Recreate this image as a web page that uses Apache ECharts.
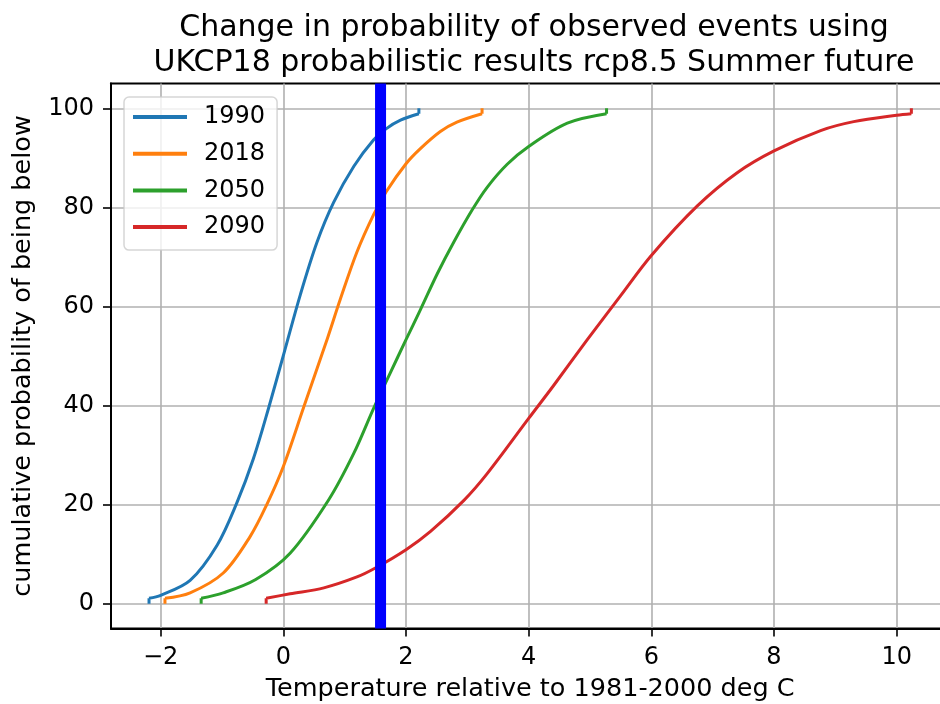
<!DOCTYPE html>
<html>
<head>
<meta charset="utf-8">
<script src="https://cdn.jsdelivr.net/npm/echarts@6/dist/echarts.min.js"></script>
<style>
html,body{margin:0;padding:0;overflow:hidden;background:#fff;}
#chart{width:960px;height:704px;}
</style>
</head>
<body>
<div id="chart"></div>
<script>
// ---- data ----
const seriesNames = ['1990', '2018', '2050', '2090'];
const colors = ['#1f77b4', '#ff7f0e', '#2ca02c', '#d62728'];

// first point / last point are the vertical end ticks (0 -> first value, last value -> 100)
const x1990 = [-2.19, -2.19, -2.0, -1.52, -1.08, -0.76, -0.49, -0.24, 0.02, 0.28, 0.55, 0.82, 1.15, 1.47, 1.68, 1.91, 2.21, 2.21];
const y1990 = [0, 1.1, 1.7, 4.7, 11.8, 20.3, 29.2, 39.5, 51.0, 62.5, 73.0, 81.0, 88.3, 93.6, 95.9, 97.6, 98.9, 100];

const x2018 = [-1.93, -1.93, -1.52, -0.98, -0.54, -0.27, 0.0, 0.33, 0.55, 0.72, 0.93, 1.20, 1.47, 1.68, 2.0, 2.23, 2.56, 2.83, 3.24, 3.24];
const y2018 = [0, 1.1, 2.2, 6.2, 13.6, 20.0, 27.7, 39.6, 47.5, 53.6, 61.5, 71.0, 78.5, 83.2, 88.8, 91.8, 95.3, 97.2, 98.9, 100];

const x2050 = [-1.34, -1.34, -0.98, -0.45, 0.11, 0.74, 1.15, 1.47, 1.74, 2.0, 2.23, 2.51, 2.78, 3.08, 3.32, 3.65, 4.0, 4.63, 5.27, 5.27];
const y2050 = [0, 1.1, 2.2, 4.9, 10.2, 21.0, 30.4, 39.4, 46.5, 53.3, 59.2, 66.6, 73.0, 79.5, 84.0, 88.7, 92.3, 97.0, 98.9, 100];

const x2090 = [-0.28, -0.28, 0.11, 0.66, 1.20, 1.50, 2.0, 2.40, 2.94, 3.32, 4.0, 4.41, 4.95, 5.50, 6.0, 6.75, 7.40, 8.0, 8.76, 9.30, 10.0, 10.24, 10.24];
const y2090 = [0, 1.1, 2.0, 3.2, 5.4, 7.2, 10.9, 14.6, 20.8, 26.2, 37.4, 44.1, 53.2, 62.2, 70.3, 80.3, 87.0, 91.4, 95.5, 97.3, 98.6, 98.9, 100];

const observedX = [1.585, 1.585];
const observedY = [-5, 105];

const xTicks = [-2, 0, 2, 4, 6, 8, 10];
const yTicks = [0, 20, 40, 60, 80, 100];
const xRange = [-2.81, 10.86];
const yRange = [-5, 105];

const titleText = 'Change in probability of observed events using\nUKCP18 probabilistic results rcp8.5 Summer future';
const xName = 'Temperature relative to 1981-2000 deg C';
const yName = 'cumulative probability of being below';

// ---- build ----
const xs = [x1990, x2018, x2050, x2090];
const ys = [y1990, y2018, y2050, y2090];
const FONT = 'DejaVu Sans';

// curve is smoothed; the two end ticks are straight segments separated by breaks
function buildData(xa, ya) {
  const n = xa.length;
  const out = [[xa[0], ya[0]], [xa[1], ya[1]], '-'];
  for (let i = 1; i < n - 1; i++) out.push([xa[i], ya[i]]);
  out.push('-', [xa[n - 2], ya[n - 2]], [xa[n - 1], ya[n - 1]]);
  return out;
}

const series = seriesNames.map((n, i) => ({
  name: n,
  type: 'line',
  data: buildData(xs[i], ys[i]),
  smooth: 0.33,
  connectNulls: false,
  showSymbol: false,
  symbol: 'none',
  lineStyle: { color: colors[i], width: 3, join: 'round' },
  itemStyle: { color: colors[i] },
  z: 2,
  animation: false
}));
series.push({
  name: 'observed',
  type: 'line',
  data: observedX.map((x, i) => [x, observedY[i]]),
  showSymbol: false,
  symbol: 'none',
  lineStyle: { color: '#0000ff', width: 11, cap: 'butt' },
  itemStyle: { color: '#0000ff' },
  z: 5,
  animation: false
});

const chart = echarts.init(document.getElementById('chart'), null, { renderer: 'canvas' });
chart.setOption({
  animation: false,
  backgroundColor: '#fff',
  title: {
    text: titleText,
    left: 529,
    top: 6,
    textAlign: 'center',
    textStyle: { fontFamily: FONT, fontSize: 30, fontWeight: 'normal', color: '#000', lineHeight: 35 }
  },
  legend: {
    data: seriesNames,
    orient: 'vertical',
    left: 124,
    top: 97,
    icon: 'rect',
    itemWidth: 54,
    itemHeight: 4,
    itemGap: 12.7,
    padding: [8, 12, 11, 9],
    backgroundColor: 'rgba(255,255,255,0.8)',
    borderColor: 'rgba(204,204,204,0.8)',
    borderWidth: 1.5,
    borderRadius: 5,
    textStyle: { fontFamily: FONT, fontSize: 24, color: '#000', padding: [0, 0, 0, 12] }
  },
  grid: {
    left: 111, top: 83.5, width: 838.4, height: 545,
    containLabel: false,
    outerBoundsMode: 'none',
    show: true, borderColor: '#000', borderWidth: 2, backgroundColor: 'transparent'
  },
  xAxis: {
    type: 'value',
    min: xRange[0], max: xRange[1],
    name: xName,
    nameLocation: 'middle',
    nameGap: 48,
    nameTextStyle: { fontFamily: FONT, fontSize: 25.5, color: '#000' },
    axisLine: { show: true, onZero: false, lineStyle: { color: '#000', width: 2 } },
    axisTick: { show: true, length: 8, lineStyle: { color: '#000', width: 1.6 }, customValues: xTicks },
    axisLabel: { fontFamily: FONT, fontSize: 24, color: '#000', margin: 17, customValues: xTicks,
      formatter: v => (v < 0 ? '\u2212' + Math.abs(v) : String(v)) },
    splitLine: { show: true, lineStyle: { color: '#b0b0b0', width: 1.6 } }
  },
  yAxis: {
    type: 'value',
    min: yRange[0], max: yRange[1],
    name: yName,
    nameLocation: 'middle',
    nameGap: 75,
    nameTextStyle: { fontFamily: FONT, fontSize: 25.5, color: '#000' },
    axisLine: { show: true, onZero: false, lineStyle: { color: '#000', width: 2 } },
    axisTick: { show: true, length: 8, lineStyle: { color: '#000', width: 1.6 }, customValues: yTicks },
    axisLabel: { fontFamily: FONT, fontSize: 24, color: '#000', margin: 17, customValues: yTicks },
    splitLine: { show: true, lineStyle: { color: '#b0b0b0', width: 1.6 } }
  },
  series: series
});
</script>
</body>
</html>
